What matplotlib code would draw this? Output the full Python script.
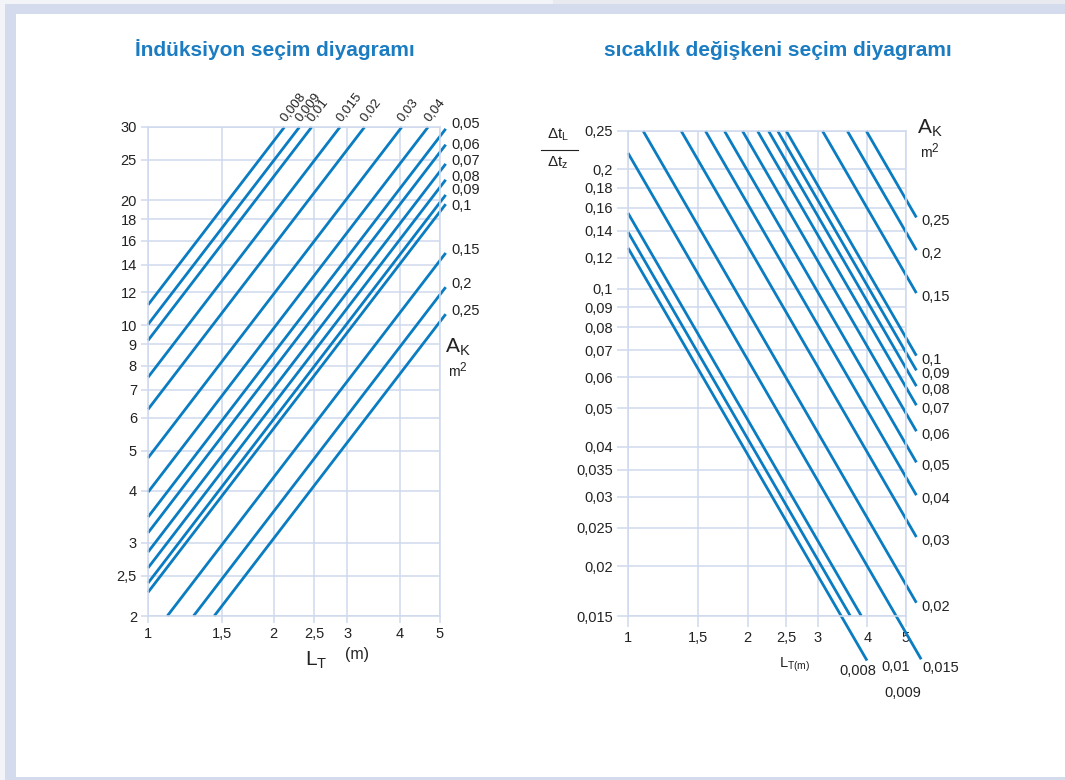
import numpy as np
import matplotlib
matplotlib.use('Agg')
from matplotlib import pyplot as plt
from matplotlib.patches import Rectangle
from matplotlib.lines import Line2D
from matplotlib.ticker import NullLocator

plt.rcParams['font.family'] = ['Liberation Sans', 'DejaVu Sans']
plt.rcParams['mathtext.fontset'] = 'custom'
plt.rcParams['mathtext.rm'] = 'Liberation Sans'
plt.rcParams['mathtext.it'] = 'Liberation Sans'
plt.rcParams['mathtext.sf'] = 'Liberation Sans'

W, H = 1065, 780
BLUE = '#0a7cc1'
TITLE = '#1b7cc2'
GRID = '#d0d9ee'
TXT = '#222222'
BAND = '#d3dbec'

# coil surface A_K (m2), shared by both charts
areas = ['0,008', '0,009', '0,01', '0,015', '0,02', '0,03', '0,04', '0,05',
         '0,06', '0,07', '0,08', '0,09', '0,1', '0,15', '0,2', '0,25']

# left chart: inductance value read at L_T = 1 m (extrapolated), power law
ind_at_1m = [11.2, 10.05, 9.2, 7.50, 6.28, 4.80, 3.97, 3.46,
             3.17, 2.85, 2.61, 2.40, 2.28, 1.74, 1.44, 1.24]
ind_slope = 1.31
ind_xmax = 5.16
ind_xticks = [1, 1.5, 2, 2.5, 3, 4, 5]
ind_xlabels = ['1', '1,5', '2', '2,5', '3', '4', '5']
ind_yticks = [2, 2.5, 3, 4, 5, 6, 7, 8, 9, 10, 12, 14, 16, 18, 20, 25, 30]
ind_ylabels = ['2', '2,5', '3', '4', '5', '6', '7', '8', '9', '10', '12',
               '14', '16', '18', '20', '25', '30']

# right chart: temperature ratio at L_T = 1 m (extrapolated), power law
temp_at_1m = [0.1269, 0.1391, 0.1553, 0.220, 0.291, 0.426, 0.543, 0.657,
              0.787, 0.915, 1.022, 1.12, 1.22, 1.754, 2.25, 2.72]
temp_slope = -1.73
temp_end = [3.99, 3.62, 3.86, 5.46, 5.31, 5.31, 5.31, 5.31,
            5.31, 5.31, 5.31, 5.31, 5.31, 5.31, 5.31, 5.31]
temp_xticks = [1, 1.5, 2, 2.5, 3, 4, 5]
temp_xlabels = ['1', '1,5', '2', '2,5', '3', '4', '5']
temp_yticks = [0.015, 0.02, 0.025, 0.03, 0.035, 0.04, 0.05, 0.06, 0.07,
               0.08, 0.09, 0.1, 0.12, 0.14, 0.16, 0.18, 0.2, 0.25]
temp_ylabels = ['0,015', '0,02', '0,025', '0,03', '0,035', '0,04', '0,05',
                '0,06', '0,07', '0,08', '0,09', '0,1', '0,12', '0,14',
                '0,16', '0,18', '0,2', '0,25']

# vertical nudge (pixels) of the end labels on the right side of chart 1
ind_label_dy = {'0,05': 5, '0,06': 0, '0,07': 3, '0,08': 3, '0,09': 5,
                '0,1': -2, '0,15': 3, '0,2': 3, '0,25': 3}


def fx(px):
    return px / W


def fy(py):
    return 1 - py / H


def band(f, x, y, w, h, color):
    f.patches.append(Rectangle((fx(x), fy(y + h)), w / W, h / H,
                               transform=f.transFigure,
                               facecolor=color, edgecolor='none', zorder=0))


def style_axes(ax, xlim, ylim, xt, xl, yt, yl, ylen, xlen, xpad):
    ax.set_xscale('log')
    ax.set_yscale('log')
    ax.set_xlim(*xlim)
    ax.set_ylim(*ylim)
    ax.set_xticks(xt, xl)
    ax.set_yticks(yt, yl)
    ax.xaxis.set_minor_locator(NullLocator())
    ax.yaxis.set_minor_locator(NullLocator())
    ax.grid(True, color=GRID, lw=1.1)
    ax.set_axisbelow(True)
    for s in ax.spines.values():
        s.set_color(GRID)
        s.set_linewidth(1.1)
    ax.tick_params(axis='y', color=GRID, width=1.1, length=ylen, pad=3,
                   labelcolor=TXT, labelsize=10.5)
    ax.tick_params(axis='x', color=GRID, width=1.1, length=xlen, pad=xpad,
                   labelcolor=TXT, labelsize=10.5)
    ax.patch.set_alpha(0)


def ak_label(x, y):
    fig.text(fx(x), fy(y), r'A$_\mathrm{K}$', fontsize=15, color=TXT,
             ha='center', va='center')
    fig.text(fx(x - 4), fy(y + 25), 'm', fontsize=10, color=TXT,
             ha='center', va='center')
    fig.text(fx(x + 5), fy(y + 21), '2', fontsize=8.5, color=TXT,
             ha='center', va='center')


fig = plt.figure(figsize=(W / 100, H / 100), dpi=100)
fig.patch.set_facecolor('white')
band(fig, 0, 0, 553, 4, '#f3f4f7')
band(fig, 553, 0, W - 553, 4, '#e9eaef')
band(fig, 0, 0, 5, H, '#f3f4f7')
band(fig, 5, 4, W - 5, 10, BAND)
band(fig, 5, 4, 11, H - 4, BAND)
band(fig, 16, 777, W - 16, 3, BAND)

# ---------------- left chart ----------------
ax1 = fig.add_axes([fx(148), fy(616), 292 / W, 489 / H])
style_axes(ax1, (1, 5), (2, 30), ind_xticks, ind_xlabels,
           ind_yticks, ind_ylabels, 5, 5, 3)

for name, c in zip(areas, ind_at_1m):
    x0 = max(1.0, (2 / c) ** (1 / ind_slope))
    x1 = min(ind_xmax, (30 / c) ** (1 / ind_slope))
    xs = np.geomspace(x0, x1, 60)
    ys = c * xs ** ind_slope
    ax1.plot(xs, ys, color=BLUE, lw=2.0, clip_on=False, solid_capstyle='butt')
    if x1 < ind_xmax:
        ax1.annotate(name, (x1, ys[-1]), xytext=(1, 5),
                     textcoords='offset pixels', rotation=52,
                     rotation_mode='anchor', ha='left', va='baseline',
                     fontsize=9.5, color=TXT, annotation_clip=False)
    else:
        ax1.annotate(name, (x1, ys[-1]), xytext=(6, ind_label_dy[name]),
                     textcoords='offset pixels', ha='left', va='center',
                     fontsize=10.5, color=TXT, annotation_clip=False)

ak_label(458, 347)
fig.text(fx(316), fy(660), r'L$_\mathrm{T}$', fontsize=15, color=TXT,
         ha='center', va='center')
fig.text(fx(357), fy(655), '(m)', fontsize=11.5, color=TXT,
         ha='center', va='center')
fig.text(fx(275), fy(50), 'İndüksiyon seçim diyagramı', fontsize=15,
         fontweight='bold', color=TITLE, ha='center', va='center')

# ---------------- right chart ----------------
ax2 = fig.add_axes([fx(628), fy(616), 278 / W, 485 / H])
style_axes(ax2, (1, 5), (0.015, 0.25), temp_xticks, temp_xlabels,
           temp_yticks, temp_ylabels, 8, 8, 3)

for name, c, xe in zip(areas, temp_at_1m, temp_end):
    x0 = max(1.0, (0.25 / c) ** (1 / temp_slope))
    xs = np.geomspace(x0, xe, 60)
    ys = c * xs ** temp_slope
    ax2.plot(xs, ys, color=BLUE, lw=2.0, clip_on=False, solid_capstyle='butt')
    if name == '0,008':
        ax2.annotate(name, (xe, ys[-1]), xytext=(-9, -10),
                     textcoords='offset pixels', ha='center', va='center',
                     fontsize=10.5, color=TXT, annotation_clip=False)
    elif name == '0,015':
        ax2.annotate(name, (xe, ys[-1]), xytext=(1, -9),
                     textcoords='offset pixels', ha='left', va='center',
                     fontsize=10.5, color=TXT, annotation_clip=False)
    elif name not in ('0,009', '0,01'):
        ax2.annotate(name, (xe, ys[-1]), xytext=(5, -4),
                     textcoords='offset pixels', ha='left', va='center',
                     fontsize=10.5, color=TXT, annotation_clip=False)

fig.text(fx(896), fy(667), '0,01', fontsize=10.5, color=TXT,
         ha='center', va='center')
fig.text(fx(903), fy(693), '0,009', fontsize=10.5, color=TXT,
         ha='center', va='center')
ak_label(930, 128)
fig.text(fx(795), fy(665), r'L$_\mathrm{T(m)}$', fontsize=10.5, color=TXT,
         ha='center', va='center')
fig.text(fx(558), fy(135), r'Δt$_\mathrm{L}$', fontsize=11, color=TXT,
         ha='center', va='center')
fig.text(fx(558), fy(163), r'Δt$_\mathrm{z}$', fontsize=11, color=TXT,
         ha='center', va='center')
fig.add_artist(Line2D([fx(541), fx(578)], [fy(150), fy(150)],
                      color=TXT, lw=0.8))
fig.text(fx(778), fy(50), 'sıcaklık değişkeni seçim diyagramı', fontsize=15,
         fontweight='bold', color=TITLE, ha='center', va='center')

fig.savefig('out.png', dpi=100)
